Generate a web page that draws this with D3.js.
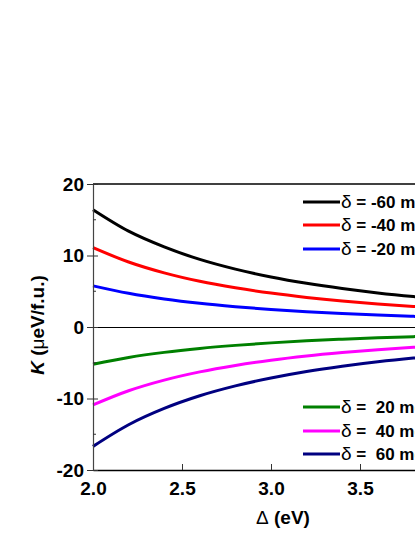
<html>
<head>
<meta charset="utf-8">
<script src="https://cdn.jsdelivr.net/npm/d3@7"></script>
<style>
  html, body { margin: 0; padding: 0; overflow: hidden; background: #fff; }
  text { font-family: "Liberation Sans", Arial, sans-serif; font-weight: bold; }
</style>
</head>
<body>
<div id="chart"></div>
<script>
// gap values (eV)
const DELTA = [2.0, 2.2, 2.4, 2.6, 2.8, 3.0, 3.2, 3.4, 3.6, 3.8, 4.0];
// K (ueV/f.u.) for each delta
const K_M60 = [16.4, 13.4, 11.2, 9.45, 8.09, 7.0, 6.11, 5.38, 4.77, 4.26, 3.83];
const K_M40 = [11.1, 9.09, 7.57, 6.39, 5.48, 4.74, 4.14, 3.64, 3.23, 2.88, 2.59];
const K_M20 = [5.75, 4.71, 3.92, 3.31, 2.84, 2.45, 2.14, 1.89, 1.67, 1.49, 1.34];
const K_P20 = [-5.2, -4.26, -3.55, -3.0, -2.57, -2.22, -1.94, -1.71, -1.51, -1.35, -1.21];
const K_P40 = [-10.9, -8.92, -7.43, -6.28, -5.38, -4.65, -4.06, -3.58, -3.17, -2.83, -2.54];
const K_P60 = [-16.7, -13.67, -11.39, -9.62, -8.24, -7.13, -6.22, -5.48, -4.86, -4.34, -3.9];
const LABELS = ["-60", "-40", "-20", " 20", " 40", " 60"];
const COLORS = ["#000000", "#ff0000", "#0000ff", "#008000", "#ff00ff", "#000080"];
const X_TICKS = [2.0, 2.5, 3.0, 3.5];
const Y_TICKS = [-20, -10, 0, 10, 20];
const Y_MINOR = [-15, -5, 5, 15];

const series = [K_M60, K_M40, K_M20, K_P20, K_P40, K_P60];

const w = 500, h = 537;
const padL = 93, padR = 449, padT = 184, padB = 470;

const x = d3.scaleLinear().domain([2, 4]).range([padL, padR]);
const y = d3.scaleLinear().domain([-20, 20]).range([padB, padT]);

const svg = d3.select('#chart').append('svg')
    .attr('width', w)
    .attr('height', h);

// zero line
svg.append('line')
    .attr('x1', x(2)).attr('x2', x(4))
    .attr('y1', y(0) + 0.5).attr('y2', y(0) + 0.5)
    .attr('stroke', '#000').attr('stroke-width', 1);

// curves
const line = d3.line()
    .x((d, i) => x(DELTA[i]))
    .y(d => y(d))
    .curve(d3.curveMonotoneX);

svg.selectAll('path.curve')
    .data(series)
    .enter()
    .append('path')
    .attr('class', 'curve')
    .attr('d', d => line(d))
    .attr('fill', 'none')
    .attr('stroke', (d, i) => COLORS[i])
    .attr('stroke-width', 3);

// frame: top line
svg.append('line')
    .attr('x1', padL).attr('x2', padR)
    .attr('y1', padT).attr('y2', padT)
    .attr('stroke', '#000').attr('stroke-width', 1.5);

const xAxis = d3.axisBottom(x)
    .tickValues(X_TICKS)
    .tickSizeInner(-6)
    .tickSizeOuter(0)
    .tickPadding(12)
    .tickFormat(d => d.toFixed(1));

const gx = svg.append('g')
    .attr('transform', 'translate(0,' + padB + ')')
    .call(xAxis);
gx.select('.domain').attr('stroke', '#000').attr('stroke-width', 1.5);
gx.selectAll('.tick line').attr('stroke', '#333');
gx.selectAll('text').attr('font-size', 19).attr('fill', '#000');

// y axis
const yAxis = d3.axisLeft(y)
    .tickValues(Y_TICKS)
    .tickSizeInner(6)
    .tickSizeOuter(0)
    .tickPadding(3)
    .tickFormat(d => String(d));

const gy = svg.append('g')
    .attr('transform', 'translate(' + padL + ',0)')
    .call(yAxis);
gy.select('.domain').attr('stroke', '#444').attr('stroke-width', 1.2);
gy.selectAll('.tick line').attr('x2', -6).attr('x1', 5).attr('stroke', '#333');
gy.selectAll('text').attr('font-size', 19).attr('fill', '#000');

gy.selectAll('line.minor')
    .data(Y_MINOR)
    .enter()
    .append('line')
    .attr('class', 'minor')
    .attr('x1', 0).attr('x2', 3)
    .attr('y1', d => y(d)).attr('y2', d => y(d))
    .attr('stroke', '#333');

// axis titles
svg.append('text')
    .attr('x', 283).attr('y', 524)
    .attr('text-anchor', 'middle')
    .attr('font-size', 19)
    .html('<tspan font-weight="normal">\u0394</tspan> (eV)');

svg.append('text')
    .attr('transform', 'translate(44,325) rotate(-90)')
    .attr('text-anchor', 'middle')
    .attr('font-size', 19)
    .html('<tspan font-style="italic">K</tspan> (<tspan font-weight="normal">\u03bc</tspan>eV/f.u.)');

// legend
const legY = [202, 225, 249, 407, 431, 454];
const leg = svg.selectAll('g.leg')
    .data(LABELS)
    .enter()
    .append('g')
    .attr('class', 'leg')
    .attr('transform', (d, i) => 'translate(0,' + legY[i] + ')');

leg.append('line')
    .attr('x1', 303).attr('x2', 340)
    .attr('y1', 0).attr('y2', 0)
    .attr('stroke', (d, i) => COLORS[i])
    .attr('stroke-width', 3);

leg.append('text')
    .attr('x', 341).attr('y', 6)
    .attr('font-size', 17)
    .style('white-space', 'pre')
    .html(d => '<tspan font-weight="normal" font-size="19">\u03b4</tspan> = ' + d + ' meV');
</script>
</body>
</html>
